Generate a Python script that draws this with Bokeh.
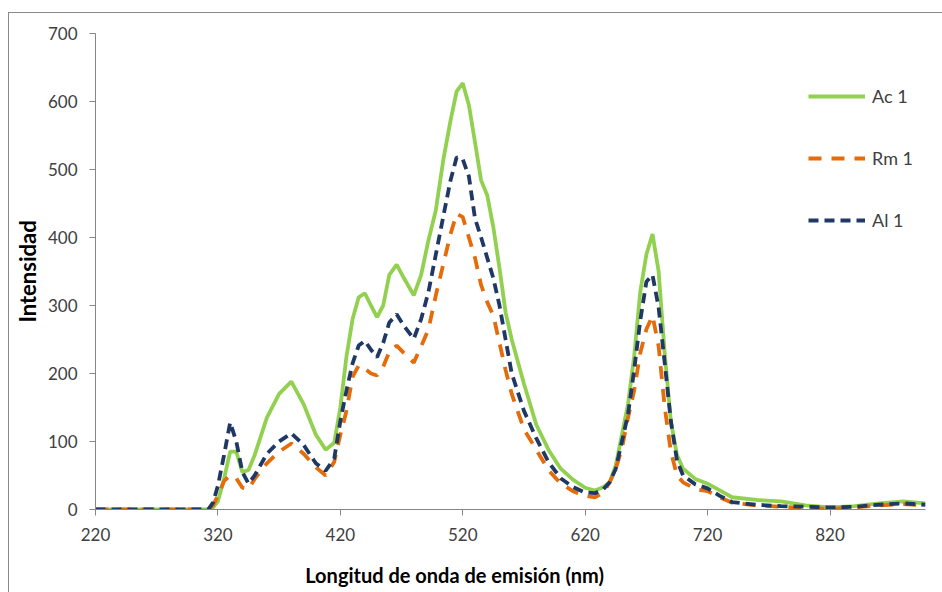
from bokeh.plotting import figure
from bokeh.models import Range1d, FixedTicker, Legend, LegendItem, ColumnDataSource
from bokeh.embed import file_html
from bokeh.resources import INLINE

# Emission wavelength grid (nm)
wavelength = [220, 300, 312, 316, 320, 325, 330, 335, 340, 345, 350, 360, 370, 380,
              390, 400, 408, 415, 420, 425, 430, 435, 440, 445, 450, 455, 460, 466,
              472, 480, 486, 492, 498, 504, 510, 515, 520, 525, 530, 535, 540, 545,
              550, 555, 560, 570, 580, 590, 600, 610, 620, 628, 635, 640, 645, 650,
              655, 660, 665, 670, 675, 680, 685, 690, 695, 700, 710, 720, 730, 740,
              760, 780, 800, 820, 840, 860, 880, 898]

# Fluorescence intensity for each sample
ac1 = [0, 0, 0, 3, 12, 45, 85, 85, 55, 58, 80, 135, 170, 188,
       155, 110, 88, 98, 150, 225, 280, 312, 318, 300, 283, 300, 345, 360,
       340, 315, 345, 396, 440, 513, 572, 615, 627, 595, 540, 484, 462, 415,
       355, 290, 250, 185, 125, 88, 60, 44, 32, 28, 33, 40, 65, 110,
       155, 225, 320, 375, 405, 350, 229, 130, 80, 60, 45, 38, 28, 18,
       14, 12, 6, 3, 5, 9, 12, 9]

rm1 = [0, 0, 0, 6, 20, 42, 50, 46, 32, 30, 45, 68, 85, 97,
       82, 62, 50, 70, 110, 145, 195, 212, 207, 200, 197, 210, 232, 241,
       230, 216, 240, 265, 315, 360, 405, 435, 430, 400, 370, 330, 305, 285,
       245, 205, 170, 118, 88, 58, 38, 27, 20, 18, 25, 40, 60, 90,
       135, 175, 230, 265, 285, 240, 150, 85, 50, 40, 30, 27, 18, 10,
       6, 4, 2, 1, 3, 6, 8, 6]

al1 = [0, 0, 0, 10, 35, 80, 128, 100, 55, 38, 50, 82, 100, 112,
       95, 68, 57, 75, 130, 175, 215, 241, 248, 235, 224, 245, 275, 287,
       270, 251, 280, 320, 375, 430, 484, 518, 515, 490, 428, 400, 370, 340,
       300, 250, 200, 145, 105, 70, 46, 33, 25, 24, 30, 40, 60, 100,
       140, 205, 278, 335, 345, 297, 215, 130, 72, 50, 37, 31, 20, 11,
       7, 5, 4, 3, 4, 7, 9, 7]

series_names = ["Ac 1", "Rm 1", "Al 1"]
x_ticks = [220, 320, 420, 520, 620, 720, 820]
y_ticks = [0, 100, 200, 300, 400, 500, 600, 700]
x_title = "Longitud de onda de emisión (nm)"
y_title = "Intensidad"

FONT = "Lato"
TEXT = "#404040"
AXIS = "#868686"

source = ColumnDataSource(dict(x=wavelength, ac1=ac1, rm1=rm1, al1=al1))

p = figure(width=942, height=592, output_backend="svg", toolbar_location=None,
           x_range=Range1d(220, 898), y_range=Range1d(0, 700),
           min_border_left=95, min_border_right=17, min_border_top=33,
           min_border_bottom=83)
p.outline_line_color = None
p.xgrid.visible = False
p.ygrid.visible = False
p.background_fill_color = "white"
p.border_fill_color = "white"

# chart-area frame: thin grey rule along the left and top edges
p.stylesheets = [
    ":host::after { content: ''; position: absolute; left: 8px; top: 12px; "
    "right: 0; bottom: 0; border-left: 1.5px solid #8a8a8a; "
    "border-top: 1.5px solid #8a8a8a; pointer-events: none; z-index: 10; }"
]

r_ac = p.line("x", "ac1", source=source, line_color="#92D050", line_width=3.8)
r_rm = p.line("x", "rm1", source=source, line_color="#E46C0A", line_width=3.8,
              line_dash="13 10")
r_al = p.line("x", "al1", source=source, line_color="#1F3864", line_width=3.8,
              line_dash="10 6")

for ax in (p.xaxis[0], p.yaxis[0]):
    ax.axis_line_color = AXIS
    ax.major_tick_line_color = AXIS
    ax.minor_tick_line_color = None
    ax.major_tick_in = 0
    ax.major_tick_out = 6
    ax.major_label_text_font = FONT
    ax.major_label_text_font_size = "17px"
    ax.major_label_text_color = TEXT
    ax.axis_label_text_font = FONT
    ax.axis_label_text_font_style = "bold"
    ax.axis_label_text_color = "#000000"

p.xaxis.ticker = FixedTicker(ticks=x_ticks)
p.yaxis.ticker = FixedTicker(ticks=y_ticks)
p.xaxis.major_label_standoff = 12
p.yaxis.major_label_standoff = 12

p.yaxis.axis_label = y_title
p.yaxis.axis_label_text_font_size = "22px"
p.yaxis.axis_label_standoff = 4

# x title sits left of the frame centre (centred on the whole chart area),
# so it is padded on the right with non-breaking spaces
p.xaxis.axis_label = x_title + "\u00a0" * 23
p.xaxis.axis_label_text_font_size = "20px"
p.xaxis.axis_label_standoff = 19

legend = Legend(items=[LegendItem(label=series_names[0], renderers=[r_ac]),
                       LegendItem(label=series_names[1], renderers=[r_rm]),
                       LegendItem(label=series_names[2], renderers=[r_al])],
                location=(713, 278), padding=0, margin=0, spacing=40,
                glyph_width=57, glyph_height=20, label_height=20,
                label_standoff=7, border_line_color=None,
                background_fill_alpha=0,
                label_text_font=FONT, label_text_font_size="18px",
                label_text_color=TEXT)
p.add_layout(legend)

open("out.html", "w").write(file_html(p, INLINE))
